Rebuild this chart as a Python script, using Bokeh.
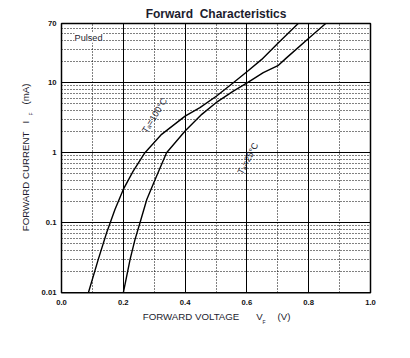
from math import log10
from bokeh.plotting import figure
from bokeh.models import Range1d, FixedTicker, Label, CustomJSTickFormatter
from bokeh.embed import file_html
from bokeh.resources import INLINE

# ---- data ----
v_100 = [0.087, 0.119, 0.146, 0.173, 0.200, 0.232, 0.270, 0.324, 0.400, 0.448,
         0.502, 0.556, 0.602, 0.648, 0.702, 0.766]
i_100 = [0.010, 0.030, 0.072, 0.155, 0.299, 0.546, 1.00, 1.83, 3.33, 4.40,
         6.46, 10.0, 14.6, 21.5, 37.3, 70.0]

v_25 = [0.200, 0.222, 0.238, 0.254, 0.276, 0.303, 0.340, 0.400, 0.454, 0.500,
        0.556, 0.602, 0.653, 0.702, 0.729, 0.802, 0.855]
i_25 = [0.010, 0.030, 0.058, 0.100, 0.215, 0.416, 1.00, 2.04, 3.53, 5.18,
        7.59, 10.0, 13.9, 17.7, 22.8, 43.9, 70.0]

x_ticks = [0.0, 0.2, 0.4, 0.6, 0.8, 1.0]
x_minor = [0.1, 0.3, 0.5, 0.7, 0.9]
y_ticks = [0.01, 0.1, 1, 10, 70]
y_minor = [0.02, 0.03, 0.04, 0.05, 0.06, 0.07, 0.08, 0.09,
           0.2, 0.3, 0.4, 0.5, 0.6, 0.7, 0.8, 0.9,
           2, 3, 4, 5, 6, 7, 8, 9,
           20, 30, 40, 50, 60]

FONT = "Liberation Sans"
TXT = "#1c1c2e"

# ---- layout: the plotting box sits at canvas x 61..370, y 23..292.3 ----
W, H = 400, 350
BOX_L, BOX_W = 61.0, 309.0
BOX_T, BOX_H = 23.0, 269.3
x_lo, x_hi = x_ticks[0], x_ticks[-1]
y_lo, y_hi = y_ticks[0], y_ticks[-1]
dec_px = BOX_H / (log10(y_hi) - log10(y_lo))


def vx(px):  # canvas x pixel -> data x
    return x_lo + (px - BOX_L) / BOX_W * (x_hi - x_lo)


def iy(py):  # canvas y pixel -> data y (log)
    return 10 ** (log10(y_hi) - (py - BOX_T) / dec_px)


p = figure(width=W, height=H, x_range=Range1d(vx(0), vx(W)), y_range=Range1d(iy(H), iy(0)),
           y_axis_type="log", output_backend="svg", toolbar_location=None, min_border=0)
p.background_fill_color = "white"
p.border_fill_color = "white"
p.outline_line_color = None

xt = FixedTicker(ticks=x_ticks, minor_ticks=x_minor)
yt = FixedTicker(ticks=y_ticks, minor_ticks=y_minor)
p.xaxis.ticker = xt
p.yaxis.ticker = yt
p.xaxis.formatter = CustomJSTickFormatter(code="return tick.toFixed(1);")
p.yaxis.formatter = CustomJSTickFormatter(code="return String(tick);")
p.xaxis.fixed_location = y_lo
p.yaxis.fixed_location = x_lo

for ax in (p.xaxis, p.yaxis):
    ax.axis_line_color = None
    ax.major_tick_line_color = None
    ax.minor_tick_line_color = None
    ax.major_tick_out = 0
    ax.major_tick_in = 0
    ax.minor_tick_out = 0
    ax.minor_tick_in = 0
    ax.major_label_text_font = FONT
    ax.major_label_text_font_size = "7.7px"
    ax.major_label_text_font_style = "bold"
    ax.major_label_text_color = "#111111"
p.xaxis.major_label_standoff = 7
p.yaxis.major_label_standoff = 5

grid_style = dict(line_color="black", line_width=1)
xg, yg = p.xgrid[0], p.ygrid[0]
if "cross_bounds" in xg.properties():
    xg.ticker = xt
    yg.ticker = yt
    xg.bounds = (x_lo, x_hi)
    xg.cross_bounds = (y_lo, y_hi)
    yg.bounds = (y_lo, y_hi)
    yg.cross_bounds = (x_lo, x_hi)
    for g in (xg, yg):
        g.grid_line_color = "black"
        g.grid_line_alpha = 1.0
        g.grid_line_width = 1
        g.minor_grid_line_color = "black"
        g.minor_grid_line_alpha = 1.0
        g.minor_grid_line_width = 1
        g.minor_grid_line_dash = "1 2"
else:
    xg.visible = False
    yg.visible = False
    p.segment(x0=x_ticks, x1=x_ticks, y0=[y_lo] * len(x_ticks), y1=[y_hi] * len(x_ticks), **grid_style)
    p.segment(x0=x_minor, x1=x_minor, y0=[y_lo] * len(x_minor), y1=[y_hi] * len(x_minor),
              line_dash="1 2", **grid_style)
    p.segment(x0=[x_lo] * len(y_ticks), x1=[x_hi] * len(y_ticks), y0=y_ticks, y1=y_ticks, **grid_style)
    p.segment(x0=[x_lo] * len(y_minor), x1=[x_hi] * len(y_minor), y0=y_minor, y1=y_minor,
              line_dash="1 2", **grid_style)

# plotting box outline
p.quad(left=[x_lo], right=[x_hi], bottom=[y_lo], top=[y_hi],
       fill_color=None, line_color="black", line_width=1.5)

p.line(v_100, i_100, line_color="black", line_width=1.4)
p.line(v_25, i_25, line_color="black", line_width=1.4)


def lab(px, py, text, size, style="normal", angle=0, align="left", baseline="middle", **kw):
    # px, py: page pixel position (page = canvas + 1)
    p.add_layout(Label(x=vx(px - 1), y=iy(py - 1), text=text, text_font=FONT,
                       text_font_size=size, text_font_style=style, text_color=TXT,
                       angle=angle, angle_units="deg",
                       text_align=align, text_baseline=baseline, **kw))


# title
lab(216.5, 14.5, "Forward\u00a0 Characteristics", "12px", style="bold", align="center")
# pulsed note
lab(75, 38.3, "Pulsed", "9.2px", background_fill_color="white")
# curve labels
lab(155, 116, "T\u2090=100\u00b0C", "9px", angle=58, align="center")
lab(248.5, 159, "T\u2090=25\u00b0C", "9px", angle=62, align="center")
# y-axis label
lab(25.5, 231.7, "FORWARD CURRENT", "9.7px", angle=90)
lab(25.5, 124, "I", "9.7px", angle=90)
lab(31.5, 116, "F", "5px", angle=90)
lab(25.5, 105, "(mA)", "9.7px", angle=90)
# x-axis label
lab(143.3, 317.3, "FORWARD VOLTAGE", "9.7px")
lab(256.7, 317.3, "V", "9.7px")
lab(263, 322.5, "F", "5px")
lab(278, 317.3, "(V)", "9.7px")

open("out.html", "w").write(file_html(p, INLINE))
